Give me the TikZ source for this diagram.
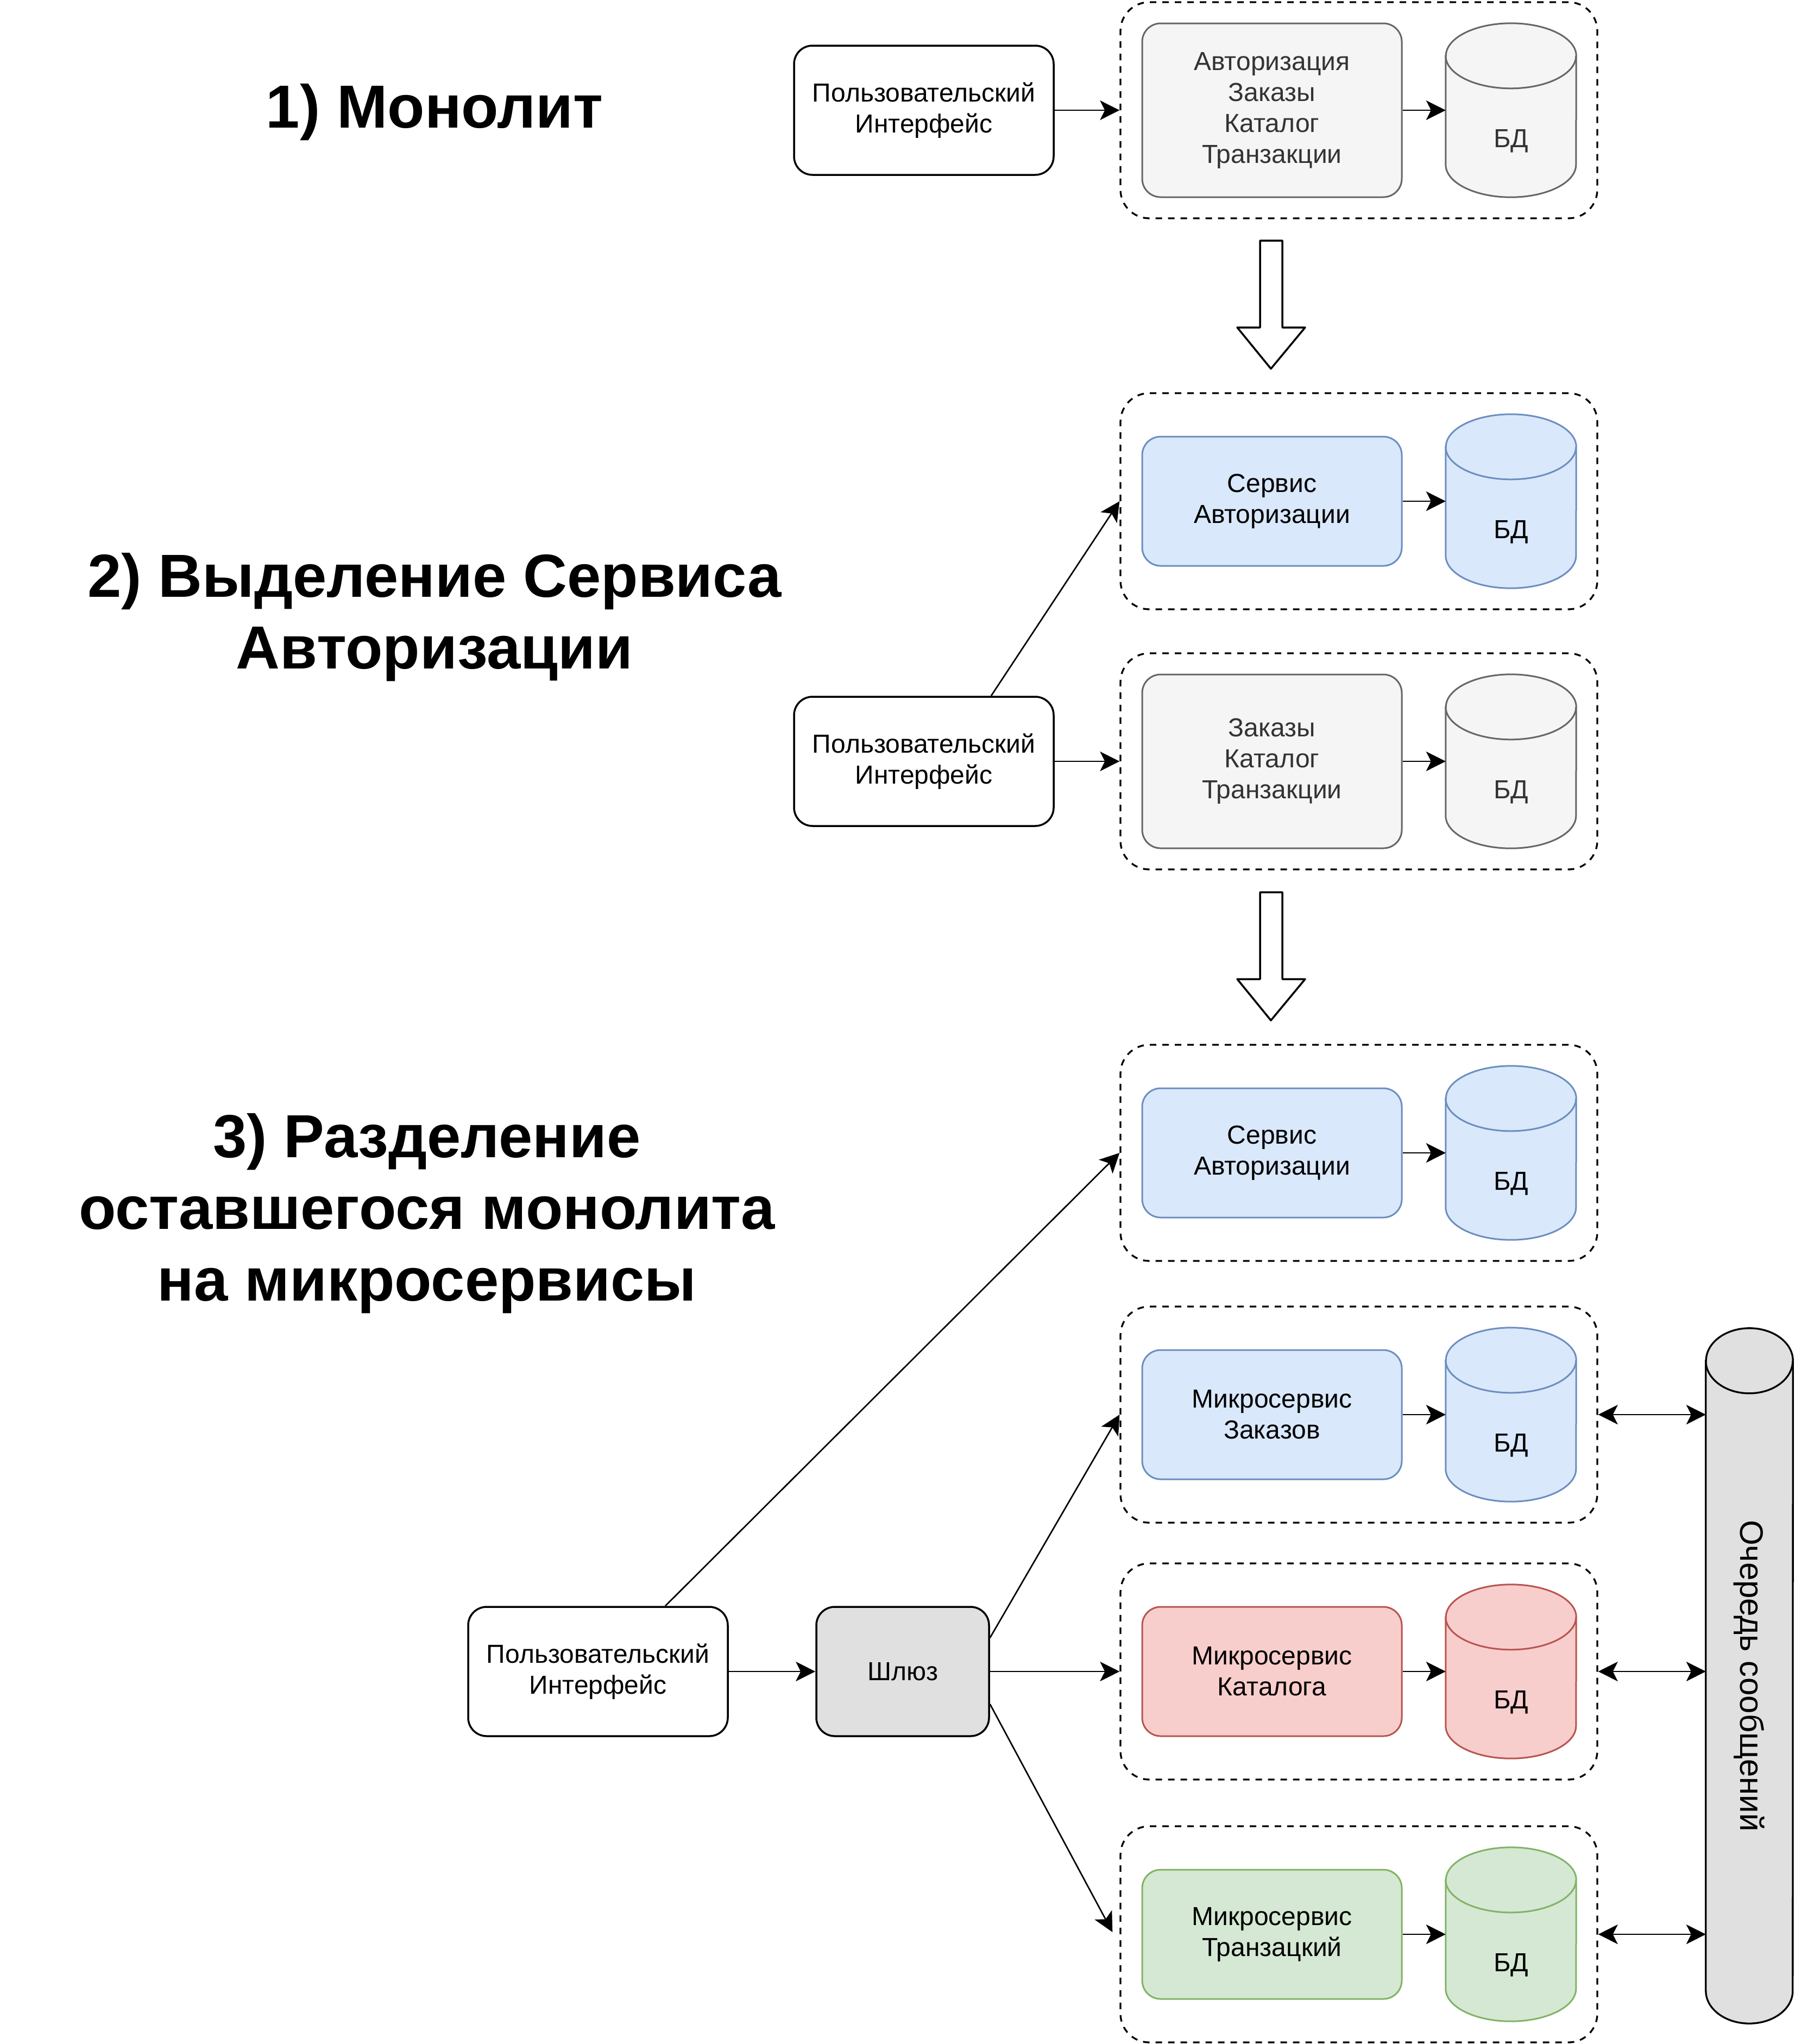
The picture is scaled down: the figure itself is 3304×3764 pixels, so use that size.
\documentclass[tikz,border=0pt]{standalone}
\usepackage{fontspec}
\setmainfont{Liberation Sans}
\usetikzlibrary{arrows.meta,calc}

\definecolor{grayfill}{HTML}{F5F5F5}
\definecolor{graystroke}{HTML}{666666}
\definecolor{graytext}{HTML}{333333}
\definecolor{bluefill}{HTML}{DAE8FC}
\definecolor{bluestroke}{HTML}{6C8EBF}
\definecolor{redfill}{HTML}{F8CECC}
\definecolor{redstroke}{HTML}{B85450}
\definecolor{greenfill}{HTML}{D5E8D4}
\definecolor{greenstroke}{HTML}{82B366}
\definecolor{hubfill}{HTML}{E0E0E0}

\pgfdeclarelayer{bg}
\pgfsetlayers{bg,main}

% Upright cylinder behind a named node: #1 node, #2 colours, #3 x radius, #4 y radius
\newcommand\cylinderbody[4]{%
  \begin{pgfonlayer}{bg}
    \path[#2] ($(#1.north west)+(0,-#4)$) -- ($(#1.south west)+(0,#4)$)
      arc[start angle=180,end angle=360,x radius=#3pt,y radius=#4pt]
      -- ($(#1.north east)+(0,-#4)$)
      arc[start angle=0,end angle=180,x radius=#3pt,y radius=#4pt] -- cycle;
    \path[#2,fill=none] ($(#1.north west)+(0,-#4)$)
      arc[start angle=180,end angle=360,x radius=#3pt,y radius=#4pt];
  \end{pgfonlayer}}

\tikzset{
  bodytext/.style={font=\fontsize{48}{57}\selectfont, align=center},
  titletext/.style={font=\fontsize{112}{132}\selectfont\bfseries, align=center, inner sep=0pt},
  uibox/.style={bodytext, draw, line width=3.5pt, rounded corners=34pt,
    minimum width=478pt, minimum height=238pt, fill=white},
  groupbox/.style={draw, line width=3.3pt, dash pattern=on 12pt off 11pt,
    rounded corners=53pt, minimum width=878pt, minimum height=398pt},
  svcbox/.style={bodytext, draw, line width=3pt, rounded corners=34pt,
    minimum width=478pt, minimum height=238pt},
  monobox/.style={svcbox, minimum height=320pt, fill=grayfill, draw=graystroke, text=graytext},
  graycol/.style={fill=grayfill, draw=graystroke, line width=3pt},
  bluecol/.style={fill=bluefill, draw=bluestroke, line width=3pt},
  redcol/.style={fill=redfill, draw=redstroke, line width=3pt},
  greencol/.style={fill=greenfill, draw=greenstroke, line width=3pt},
  hubcol/.style={fill=hubfill, draw=black, line width=3.3pt},
  dbnode/.style={bodytext, minimum width=240pt, minimum height=320pt,
    text height=136pt, text depth=0pt, inner sep=0pt},
  conn/.style={line width=2.7pt, -{Stealth[length=36pt,width=36pt,inset=9pt]}},
  twoway/.style={line width=2.7pt,
    {Stealth[length=36pt,width=36pt,inset=9pt]}-{Stealth[length=36pt,width=36pt,inset=9pt]}},
  bigarrow/.style={draw, line width=3.5pt, line join=round, fill=white}
}

\begin{document}
\begin{tikzpicture}[x=1pt,y=1pt]
\begin{pgfonlayer}{bg}
  \fill[white] (0,0) rectangle (3304,-3764);
\end{pgfonlayer}
\useasboundingbox (0,0) rectangle (3304,-3764);

% ---------- titles ----------
\node[titletext] (t1) at (800,-207) {1) Монолит};
\node[titletext] (t2) at (800,-1137) {2) Выделение Сервиса\\Авторизации};
\node[titletext] (t3) at (786,-2235) {3) Разделение\\оставшегося монолита\\на микросервисы};

% ---------- stage 1: monolith ----------
\node[uibox] (ui1) at (1701,-203) {Пользовательский\\Интерфейс};
\node[groupbox] (c1) at (2502,-203) {};
\node[monobox] (in1) at (2342,-203) {Авторизация\\Заказы\\Каталог\\Транзакции};
\node[dbnode, text=graytext] (db1) at (2782,-203) {БД};
\cylinderbody{db1}{graycol}{120}{60}
\draw[conn] (ui1.east) -- (c1.west);
\draw[conn] (in1.east) -- (db1.west);

\draw[bigarrow] (2320,-443) -- (2361,-443) -- (2361,-603) -- (2403,-603)
  -- (2340,-679) -- (2278,-603) -- (2320,-603) -- cycle;

% ---------- stage 2: auth service split out ----------
\node[groupbox] (c2a) at (2502,-923) {};
\node[svcbox, bluecol] (in2a) at (2342,-923) {Сервис\\Авторизации};
\node[dbnode] (db2a) at (2782,-923) {БД};
\cylinderbody{db2a}{bluecol}{120}{60}
\draw[conn] (in2a.east) -- (db2a.west);

\node[groupbox] (c2b) at (2502,-1402) {};
\node[monobox] (in2b) at (2342,-1402) {Заказы\\Каталог\\Транзакции};
\node[dbnode, text=graytext] (db2b) at (2782,-1402) {БД};
\cylinderbody{db2b}{graycol}{120}{60}
\draw[conn] (in2b.east) -- (db2b.west);

\node[uibox] (ui2) at (1701,-1402) {Пользовательский\\Интерфейс};
\draw[conn] ([xshift=124pt]ui2.north) -- (c2a.west);
\draw[conn] (ui2.east) -- (c2b.west);

\draw[bigarrow] (2320,-1643) -- (2361,-1643) -- (2361,-1803) -- (2403,-1803)
  -- (2340,-1879) -- (2278,-1803) -- (2320,-1803) -- cycle;

% ---------- stage 3: microservices ----------
\node[groupbox] (c3a) at (2502,-2123) {};
\node[svcbox, bluecol] (in3a) at (2342,-2123) {Сервис\\Авторизации};
\node[dbnode] (db3a) at (2782,-2123) {БД};
\cylinderbody{db3a}{bluecol}{120}{60}
\draw[conn] (in3a.east) -- (db3a.west);

\node[groupbox] (c3b) at (2502,-2605) {};
\node[svcbox, bluecol] (in3b) at (2342,-2605) {Микросервис\\Заказов};
\node[dbnode] (db3b) at (2782,-2605) {БД};
\cylinderbody{db3b}{bluecol}{120}{60}
\draw[conn] (in3b.east) -- (db3b.west);

\node[groupbox] (c3c) at (2502,-3078) {};
\node[svcbox, redcol] (in3c) at (2342,-3078) {Микросервис\\Каталога};
\node[dbnode] (db3c) at (2782,-3078) {БД};
\cylinderbody{db3c}{redcol}{120}{60}
\draw[conn] (in3c.east) -- (db3c.west);

\node[groupbox] (c3d) at (2502,-3562) {};
\node[svcbox, greencol] (in3d) at (2342,-3562) {Микросервис\\Транзацкий};
\node[dbnode] (db3d) at (2782,-3562) {БД};
\cylinderbody{db3d}{greencol}{120}{60}
\draw[conn] (in3d.east) -- (db3d.west);

\node[uibox] (ui3) at (1101,-3078) {Пользовательский\\Интерфейс};
\node[uibox, fill=hubfill, minimum width=318pt] (gw) at (1662,-3078) {Шлюз};
\draw[conn] ([xshift=124pt]ui3.north) -- (c3a.west);
\draw[conn] (ui3.east) -- (gw.west);
\draw[conn] ([yshift=62pt]gw.east) -- (c3b.west);
\draw[conn] (gw.east) -- (c3c.west);
\draw[conn] ([yshift=-60pt]gw.east) -- ([xshift=-13pt,yshift=4pt]c3d.west);

% message queue
\node[bodytext, font=\fontsize{60}{72}\selectfont, minimum width=160pt,
  minimum height=1280pt, inner sep=0pt] (queue) at (3221,-3086)
  {\rotatebox{-90}{Очередь сообщений}};
\cylinderbody{queue}{hubcol}{80}{60}
\draw[twoway] (c3b.east) -- (queue.west |- c3b.east);
\draw[twoway] (c3c.east) -- (queue.west |- c3c.east);
\draw[twoway] (c3d.east) -- (queue.west |- c3d.east);
\end{tikzpicture}
\end{document}
